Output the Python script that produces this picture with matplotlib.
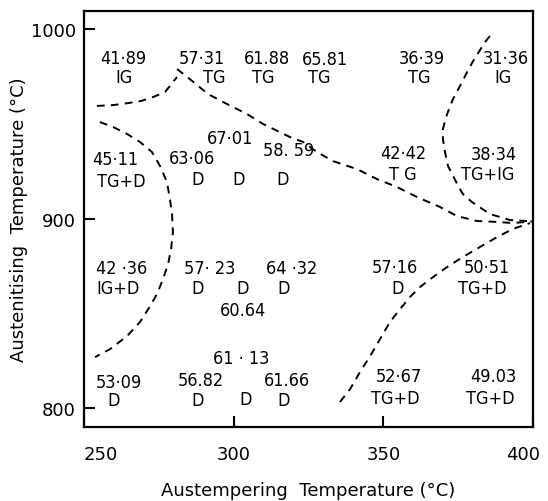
import matplotlib
matplotlib.use("Agg")
import matplotlib.pyplot as plt
import matplotlib.transforms as mtransforms

# hardness values and structure at each heat-treatment condition
values = ["41·89", "57·31", "61.88", "65.81", "36·39", "31·36",
          "45·11", "63·06", "67·01", "58. 59", "42·42", "38·34",
          "42 ·36", "57· 23", "60.64", "64 ·32", "57·16", "50·51",
          "53·09", "56.82", "61 · 13", "61.66", "52·67", "49.03"]
phases = ["IG", "TG", "TG", "TG", "TG", "IG",
          "TG+D", "D", "D", "D", "T G", "TG+IG",
          "IG+D", "D", "D", "D", "D", "TG+D",
          "D", "D", "D", "D", "TG+D", "TG+D"]
val_x = [263.0, 289.4, 311.1, 330.5, 362.9, 391.0,
         260.4, 286.1, 298.8, 318.2, 356.6, 387.0,
         262.7, 292.1, 303.1, 319.5, 353.9, 384.6,
         261.7, 289.1, 302.5, 317.8, 355.2, 386.7]
val_y = [984.7, 984.7, 984.7, 984.2, 984.7, 984.7,
         931.4, 931.9, 942.5, 936.1, 934.6, 934.0,
         873.9, 873.9, 851.7, 873.9, 874.4, 874.4,
         813.7, 814.7, 826.6, 814.7, 816.9, 816.9]
phase_x = [263.4, 293.4, 309.8, 328.5, 361.9, 390.0,
           262.4, 287.8, 301.5, 316.2, 356.6, 385.0,
           261.4, 287.8, 303.1, 316.8, 354.9, 383.0,
           260.0, 288.1, 304.1, 316.8, 353.9, 385.6]
phase_y = [974.7, 974.7, 974.7, 974.7, 974.7, 974.7,
           919.8, 920.8, 920.8, 920.8, 923.5, 923.5,
           863.3, 863.3, 863.3, 863.3, 863.3, 863.3,
           804.2, 804.2, 804.8, 804.2, 805.3, 805.3]

# dashed region boundaries
b1_x = [254.3, 260.0, 264.7, 269.0, 273.1, 277.1, 281.1]
b1_y = [959.4, 959.9, 960.9, 962.0, 964.1, 966.8, 974.7]

b2_x = [281.1, 286.1, 291.4, 297.8, 304.5, 309.8, 318.8, 323.2, 327.8, 333.2,
        341.2, 347.9, 354.6, 361.3, 368.9, 374.6, 381.3, 388.0, 393.3, 400.0]
b2_y = [978.9, 972.6, 965.7, 960.4, 955.1, 949.9, 943.0, 940.4, 935.1, 930.3,
        926.1, 920.8, 916.6, 911.3, 906.1, 901.3, 898.7, 898.2, 897.6, 898.5]

b3_x = [385.6, 384.0, 380.0, 378.0, 375.6, 373.3, 371.3, 369.9, 369.9, 370.6,
        371.6, 373.0, 375.0, 376.6, 379.6, 385.6, 392.3, 400.0]
b3_y = [996.3, 993.1, 983.1, 977.3, 969.9, 963.1, 955.1, 947.2, 942.0, 935.1,
        927.7, 923.5, 917.2, 912.9, 908.7, 902.4, 899.2, 898.5]

b4_x = [335.5, 338.9, 342.2, 345.6, 348.9, 352.2, 355.6, 358.9, 362.3, 366.6,
        371.3, 376.6, 382.3, 388.0, 393.3, 399.0]
b4_y = [803.2, 810.0, 819.0, 827.4, 836.4, 845.4, 852.2, 858.6, 863.9, 869.1,
        874.4, 879.7, 885.0, 890.2, 894.5, 897.6]

b5_x = [255.3, 259.7, 264.4, 268.7, 272.7, 275.4, 277.7, 278.7, 279.4, 279.7,
        279.1, 278.1, 276.4, 274.4, 272.1, 268.7, 264.4, 258.7, 253.7]
b5_y = [950.9, 948.3, 944.6, 940.4, 935.1, 927.7, 919.3, 910.3, 902.4, 892.9,
        883.9, 876.0, 868.1, 860.2, 853.8, 845.4, 838.0, 831.1, 826.9]

xticks = [250, 300, 350, 400]
yticks = [800, 900, 1000]

fig = plt.figure(figsize=(5.48, 5.02), dpi=100)
ax = fig.add_axes([0.1533, 0.1474, 0.8193, 0.8287])

for bx, by in [(b1_x, b1_y), (b2_x, b2_y), (b3_x, b3_y), (b4_x, b4_y), (b5_x, b5_y)]:
    ax.plot(bx, by, color="black", lw=1.4, linestyle=(0, (4, 3.2)))

txt = dict(ha="center", va="center", fontsize=13, fontstretch="condensed",
           color="black")
for i in range(len(values)):
    ax.text(val_x[i], val_y[i], values[i], **txt)
    ax.text(phase_x[i], phase_y[i], phases[i], **txt)

ax.set_xlim(250, 400)
ax.set_ylim(790, 1009.5)
ax.set_xticks(xticks)
ax.set_yticks(yticks)
ax.tick_params(direction="in", length=8, width=1.5, labelsize=13)
ax.tick_params(axis="x", pad=13)
ax.tick_params(axis="y", pad=6)
xlabels = ax.get_xticklabels()
xlabels[0].set_ha("left")
# pull the last label back inside the canvas
xlabels[-1].set_transform(xlabels[-1].get_transform() +
                          mtransforms.ScaledTranslation(-7 / 72, 0, fig.dpi_scale_trans))
for s in ax.spines.values():
    s.set_linewidth(1.6)

ax.set_xlabel("Austempering  Temperature (°C)", fontsize=13)
ax.set_ylabel("Austenitising  Temperature (°C)", fontsize=13)
ax.xaxis.set_label_coords(0.5, -0.13)
ax.yaxis.set_label_coords(-0.125, 0.5)

fig.savefig("out.png", dpi=100)
